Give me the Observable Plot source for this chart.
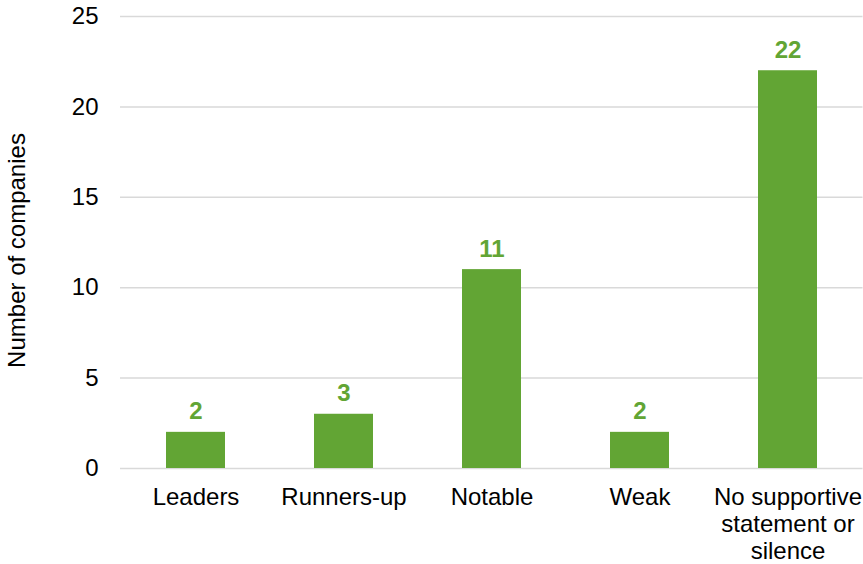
<!DOCTYPE html>
<html><head><meta charset="utf-8">
<script src="https://cdn.jsdelivr.net/npm/d3@7"></script>
<script src="https://cdn.jsdelivr.net/npm/@observablehq/plot@0.6"></script>
<style>html,body{margin:0;padding:0;background:#fff}</style>
</head><body><div id="chart"></div>
<script>
const categories = ["Leaders", "Runners-up", "Notable", "Weak", "No supportive statement or silence"];
const categoryLabels = ["Leaders", "Runners-up", "Notable", "Weak", "No supportive\nstatement or\nsilence"];
const counts = [2, 3, 11, 2, 22];
const yTicks = [0, 5, 10, 15, 20, 25];
const yTitle = "Number of companies";

const data = categories.map((c, i) => ({category: c, count: counts[i], label: categoryLabels[i]}));
const green = "#62a534";

const chart = Plot.plot({
  width: 863, height: 564,
  marginLeft: 120, marginRight: 0.5, marginTop: 16, marginBottom: 96,
  style: {fontFamily: "'Liberation Sans', Arial, sans-serif", fontSize: "24px", color: "#000", background: "#fff"},
  x: {domain: categories, paddingInner: 0.6, paddingOuter: 0.3, axis: null},
  y: {domain: [0, 25], axis: null},
  marks: [
    Plot.gridY(yTicks, {stroke: "#d9d9d9", strokeOpacity: 1, strokeWidth: 1.5}),
    Plot.barY(data, {x: "category", y: "count", fill: green}),
    Plot.text(data, {x: "category", y: "count", text: d => String(d.count), fill: green, fontWeight: "bold", lineAnchor: "bottom", dy: -13, fontSize: 24}),
    Plot.axisY(yTicks, {tickSize: 0, tickPadding: 22, label: null, fontSize: 24, fill: "#000"}),
    Plot.text(data, {x: "category", y: () => 0, text: "label", lineAnchor: "top", dy: 18, lineHeight: 1.11, fontSize: 24, fill: "#000"}),
    Plot.text([yTitle], {text: d => d, frameAnchor: "left", textAnchor: "middle", rotate: -90, dx: -103, dy: 8, fontSize: 24, fill: "#000"})
  ]
});
document.getElementById("chart").append(chart);
</script>
</body></html>
